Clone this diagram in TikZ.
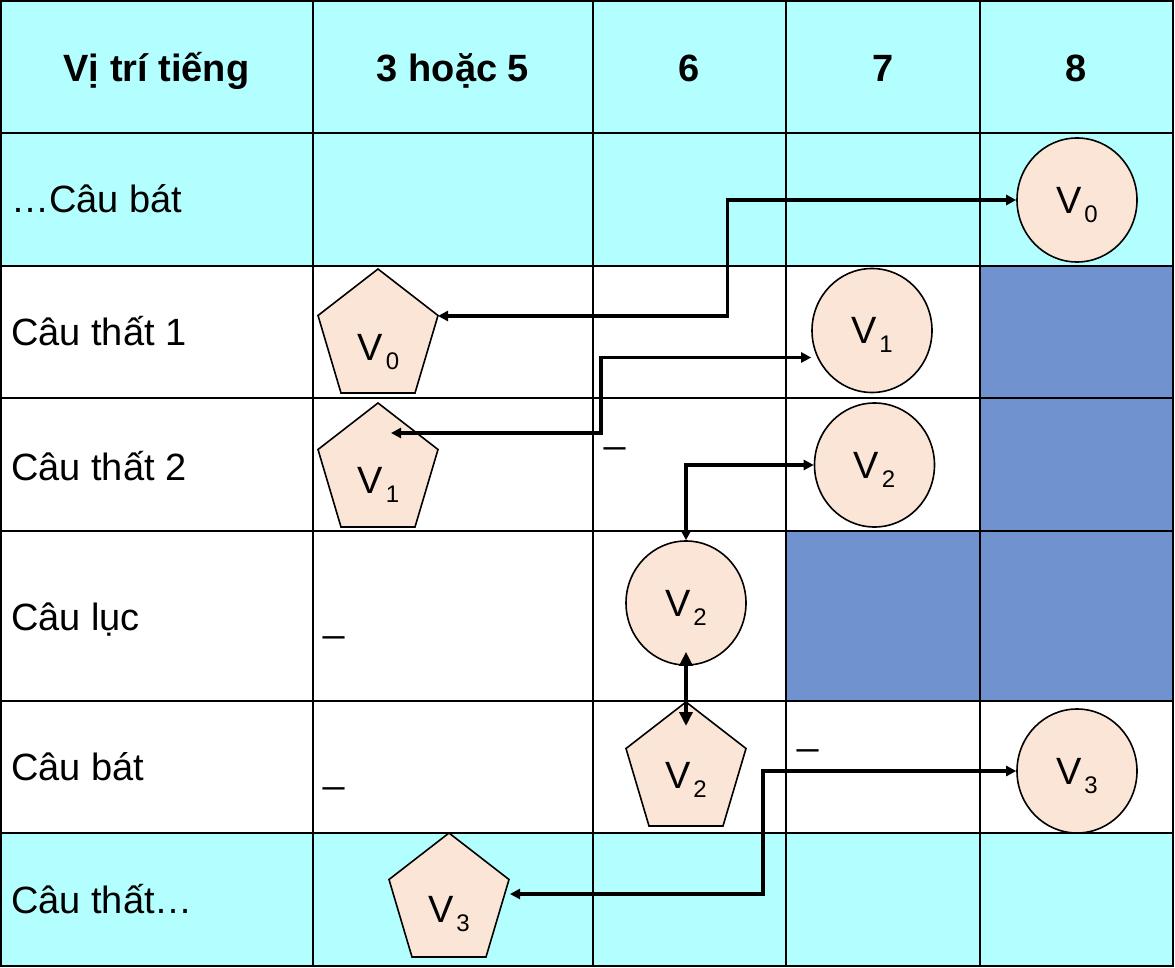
\documentclass[tikz,border=0pt]{standalone}
\usepackage{fontspec}
\setmainfont{Liberation Sans}
\usetikzlibrary{arrows.meta,calc,shapes.geometric}
\definecolor{cyanbg}{RGB}{179,255,255}
\definecolor{bluecell}{RGB}{112,146,206}
\definecolor{peach}{RGB}{251,229,214}
\newcommand{\vsub}[1]{V\kern2.5pt\raisebox{-9pt}[0pt][0pt]{\fontsize{24}{24}\selectfont #1}}
\newcommand{\mypent}[2]{\draw[pentshape] (#1,#2) -- ++(60,46.5) -- ++(-23,77.5) -- ++(-74,0) -- ++(-23,-77.5) -- cycle;}
\begin{document}
\begin{tikzpicture}[x=1pt,y=-1pt,
  gridline/.style={line width=1.5pt},
  circ/.style={ellipse, draw, line width=1.6pt, fill=peach, minimum width=120pt, minimum height=124pt, inner sep=0pt, font=\fontsize{38}{40}\selectfont},
  pentshape/.style={draw, line width=1.6pt, fill=peach, line join=miter},
  plabel/.style={inner sep=0pt, anchor=base, font=\fontsize{38}{40}\selectfont},
  headlab/.style={inner sep=0pt, anchor=base, font=\bfseries\fontsize{38}{40}\selectfont},
  rowlab/.style={inner sep=0pt, anchor=base west, font=\fontsize{38}{40}\selectfont},
  ulab/.style={inner sep=0pt, anchor=base west, font=\fontsize{38}{40}\selectfont},
  conn/.style={line width=3.3pt, {Triangle[length=10pt,width=10pt]}-{Triangle[length=10pt,width=10pt]}},
  bigconn/.style={line width=4.8pt, {Triangle[length=14pt,width=13pt]}-{Triangle[length=14pt,width=13pt]}}
]
\useasboundingbox (0,0) rectangle (1175,968);
% backgrounds
\fill[white] (0,0) rectangle (1175,968);
\fill[cyanbg] (0,0) rectangle (1173,266);
\fill[cyanbg] (0,833) rectangle (1173,966);
\fill[bluecell] (980,266) rectangle (1173,531);
\fill[bluecell] (786,531) rectangle (1173,701);
% grid
\foreach \x in {313,593,786,980} \draw[gridline] (\x,0) -- (\x,966);
\foreach \y in {133,266,398,531,701,833} \draw[gridline] (0,\y) -- (1173,\y);
\draw[gridline, line width=2pt] (1,1) rectangle (1173,966);
% header
\node[headlab] (h0) at (156.5,82) {Vị trí tiếng};
\node[headlab] (h1) at (453,82) {3 hoặc 5};
\node[headlab] (h2) at (689.5,82) {6};
\node[headlab] (h3) at (883,82) {7};
\node[headlab] (h4) at (1076.5,82) {8};
% row labels
\node[rowlab] (r1) at (11,213) {…Câu bát};
\node[rowlab] (r2) at (11,345.5) {Câu thất 1};
\node[rowlab] (r3) at (11,480) {Câu thất 2};
\node[rowlab] (r4) at (11,630) {Câu lục};
\node[rowlab] (r5) at (11,780.5) {Câu bát};
\node[rowlab] (r6) at (11,913) {Câu thất…};
% underscores
\node[ulab] (u1) at (604,442) {\_};
\node[ulab] (u2) at (323,631) {\_};
\node[ulab] (u3) at (323,782) {\_};
\node[ulab] (u4) at (797,744) {\_};
% circles
\node[circ] (c0) at (1077,200) {\vsub{0}};
\node[circ] (c1) at (872,330.5) {\vsub{1}};
\node[circ] (c2) at (874.5,465) {\vsub{2}};
\node[circ] (c4) at (686,603) {\vsub{2}};
\node[circ] (c3) at (1077,771) {\vsub{3}};
% pentagons
\mypent{378}{269}
\mypent{378}{403}
\mypent{686}{702}
\mypent{449}{833}
\node[plabel] (p0) at (378.5,360) {\vsub{0}};
\node[plabel] (p1) at (378.5,493) {\vsub{1}};
\node[plabel] (p2) at (686,788) {\vsub{2}};
\node[plabel] (p3) at (449,922) {\vsub{3}};
% connector end points
\coordinate (p0r) at (438,316);
\coordinate (p1in) at (391,433);
\coordinate (p2in) at (686,726);
\coordinate (p3r) at (510,894);
\coordinate (c1in) at ($(c1.west)+(0,27)$);
\coordinate (c4in) at ($(c4.south)+(0,-14)$);
% connectors
\draw[conn] (c0.west) -| (727.5,316) -- (p0r);
\draw[conn] (c1in) -| (601,433) -- (p1in);
\draw[conn] (c2.west) -| (c4.north);
\draw[bigconn] (c4in) -- (p2in);
\draw[conn] (c3.west) -| (763,894) -- (p3r);
\end{tikzpicture}
\end{document}
